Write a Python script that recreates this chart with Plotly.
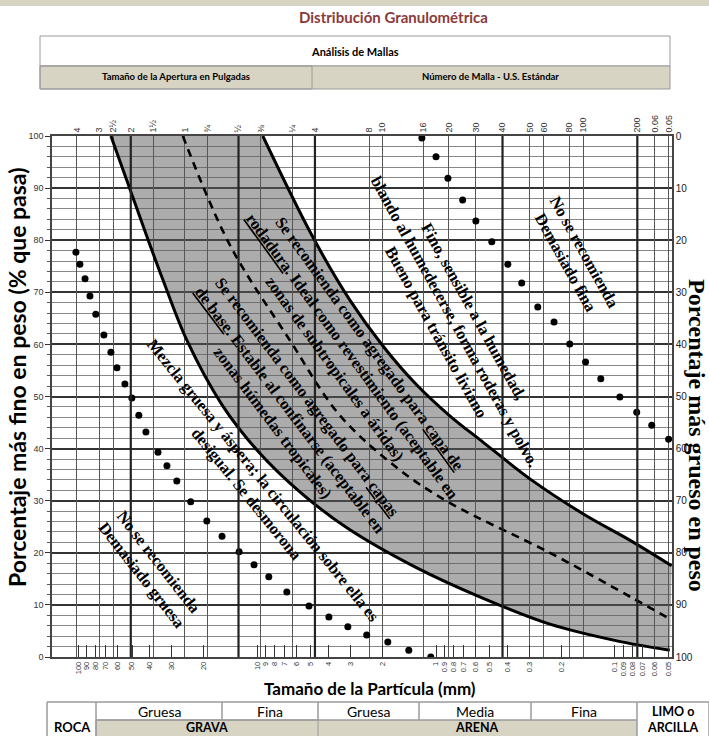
import math
import plotly.graph_objects as go

# ---------------- data ----------------
# top axis: sieve openings (mm) and their labels
sieve_mm = [101.6, 76.2, 63.5, 50.8, 38.1, 25.4, 19.05, 12.7, 9.525, 6.35, 4.75,
            2.36, 2.0, 1.18, 0.85, 0.6, 0.425, 0.3, 0.25, 0.18, 0.15, 0.075, 0.06, 0.05]
sieve_labels = ["4", "3", "2½", "2", "1½", "1", "¾", "½", "⅜", "¼", "4",
                "8", "10", "16", "20", "30", "40", "50", "60", "80", "100", "200", "0.06", "0.05"]
thick_sieves_mm = [50.8, 12.7, 4.75, 0.425, 0.075]

# bottom axis: particle size (mm)
size_ticks_mm = [100, 90, 80, 70, 60, 50, 40, 30, 20, 10, 9, 8, 7, 6, 5, 4, 3, 2, 1,
                 0.9, 0.8, 0.7, 0.6, 0.5, 0.4, 0.3, 0.2, 0.1, 0.09, 0.08, 0.07, 0.06, 0.05]
size_tick_labels = ["100", "90", "80", "70", "60", "50", "40", "30", "20", "10", "9", "8", "7",
                    "6", "5", "4", "3", "2", "1", "0.9", "0.8", "0.7", "0.6", "0.5", "0.4",
                    "0.3", "0.2", "0.1", "0.09", "0.08", "0.07", "0.06", "0.05"]

pct_ticks = [0, 10, 20, 30, 40, 50, 60, 70, 80, 90, 100]
coarse_pct_ticks = [0, 10, 20, 30, 40, 50, 60, 70, 80, 90, 100]

# coarse limit of the recommended band (solid, left/lower)
coarse_limit_mm = [65.6, 39.7, 33.6, 24.7, 15.7, 10.0, 5.77, 3.15, 1.28, 0.549, 0.231, 0.0977, 0.0494]
coarse_limit_pct = [100, 79.1, 72.4, 60.8, 48.4, 39.7, 31.7, 24.8, 17.1, 11.3, 6.3, 3.1, 1.3]

# fine limit of the recommended band (solid, right/upper)
fine_limit_mm = [9.29, 4.88, 3.03, 1.98, 1.28, 0.838, 0.549, 0.288, 0.151, 0.0796, 0.0482]
fine_limit_pct = [100, 80.6, 68.5, 59.7, 52.2, 46.3, 41.3, 33.8, 27.5, 22.1, 17.5]

# dashed middle curve
mid_mm = [26.0, 14.2, 6.56, 3.45, 1.595, 0.838, 0.231, 0.0796, 0.0482]
mid_pct = [100, 79.1, 60.8, 46.4, 35.9, 29.6, 20.0, 11.3, 7.1]

# dotted curve: too coarse
coarse_dots_mm = [102.9, 97.8, 91.5, 85.9, 79.7, 71.8, 65.6, 60.7, 54.8, 50.1, 45.8, 41.8,
                  35.8, 31.9, 28.1, 23.5, 19.1, 15.7, 12.6, 10.4, 8.60, 6.82, 5.13, 3.97,
                  3.11, 2.44, 1.86, 1.42, 1.07]
coarse_dots_pct = [77.7, 75.4, 72.6, 69.3, 65.8, 61.8, 58.5, 55.5, 52.4, 49.7, 46.4, 43.2,
                   39.3, 36.7, 33.8, 29.8, 26.1, 23.2, 20.2, 17.7, 15.4, 12.5, 9.8, 7.7,
                   5.8, 4.2, 2.9, 1.3, 0.0]

# dotted curve: too fine
fine_dots_mm = [1.20, 1.00, 0.858, 0.710, 0.599, 0.488, 0.397, 0.332, 0.270, 0.219, 0.179,
                0.146, 0.120, 0.0939, 0.0756, 0.0623, 0.0501]
fine_dots_pct = [99.6, 96.0, 91.9, 87.7, 83.7, 79.7, 75.4, 71.8, 67.2, 64.3, 60.1,
                 56.6, 53.4, 49.9, 47.0, 44.5, 41.8]

# ---------------- layout helpers ----------------
W, H = 709, 736
PL, PR, PT, PB = 52, 672, 136, 657


def px(x):
    return (x - PL) / (PR - PL)


def py(y):
    return (PB - y) / (PB - PT)


SERIF = "Liberation Serif"
SANS = "Lato"
BEIGE = "#d7d4c3"

fig = go.Figure()

# vertical thick lines at key sieves (top axis)
vx, vy = [], []
for d in thick_sieves_mm:
    vx += [d, d, None]
    vy += [0, 100, None]
fig.add_trace(go.Scatter(x=vx, y=vy, xaxis="x2", yaxis="y", mode="lines",
                         line=dict(color="#222", width=2.2), hoverinfo="skip", showlegend=False))

# band (fine limit first, then coarse limit filled to it)
fig.add_trace(go.Scatter(x=fine_limit_mm, y=fine_limit_pct, mode="lines",
                         line=dict(color="black", width=3, shape="spline", smoothing=1),
                         hoverinfo="skip", showlegend=False))
fig.add_trace(go.Scatter(x=coarse_limit_mm, y=coarse_limit_pct, mode="lines",
                         line=dict(color="black", width=3, shape="spline", smoothing=1),
                         fill="tonexty", fillcolor="rgba(90,90,90,0.5)",
                         hoverinfo="skip", showlegend=False))
fig.add_trace(go.Scatter(x=mid_mm, y=mid_pct, mode="lines",
                         line=dict(color="black", width=2.6, dash="8px,6px", shape="spline", smoothing=1),
                         hoverinfo="skip", showlegend=False))
fig.add_trace(go.Scatter(x=coarse_dots_mm, y=coarse_dots_pct, mode="markers",
                         marker=dict(color="black", size=7), hoverinfo="skip", showlegend=False))
fig.add_trace(go.Scatter(x=fine_dots_mm, y=fine_dots_pct, mode="markers",
                         marker=dict(color="black", size=7), hoverinfo="skip", showlegend=False))
# helper trace so that the right-hand axis is drawn
fig.add_trace(go.Scatter(x=[sieve_mm[0]], y=[coarse_pct_ticks[0]], yaxis="y2", mode="markers",
                         marker=dict(opacity=0), hoverinfo="skip", showlegend=False))

xr = [math.log10(140), math.log10(0.048)]

fig.update_layout(
    width=W, height=H,
    margin=dict(l=PL, r=W - PR, t=PT, b=H - PB),
    paper_bgcolor="white", plot_bgcolor="white",
    showlegend=False,
    xaxis=dict(type="log", range=xr, tickmode="array", tickvals=size_ticks_mm,
               ticktext=size_tick_labels, tickangle=-90, ticks="inside", ticklen=12,
               tickcolor="#333", tickwidth=1, showgrid=False, showline=True,
               linecolor="#444", linewidth=1.5, mirror=False,
               tickfont=dict(family="Liberation Sans", size=7.5, color="#333")),
    xaxis2=dict(type="log", range=xr, overlaying="x", side="top", anchor="y",
                tickmode="array", tickvals=sieve_mm, ticktext=sieve_labels, tickangle=-90,
                ticks="", showgrid=True, gridcolor="#555", gridwidth=1, showline=True,
                linecolor="#444", linewidth=1.5,
                tickfont=dict(family="Liberation Sans", size=9, color="#333")),
    yaxis=dict(range=[0, 100], tickmode="array", tickvals=pct_ticks, ticks="outside",
               ticklen=5, tickcolor="#333", showgrid=True, gridcolor="#333", gridwidth=2,
               showline=True, linecolor="#444", linewidth=1.5, zeroline=False,
               minor=dict(dtick=2, showgrid=True, gridcolor="#888", gridwidth=1,
                          ticks="outside", ticklen=3, tickcolor="#555"),
               tickfont=dict(family="Liberation Sans", size=9, color="#333")),
    yaxis2=dict(range=[100, 0], overlaying="y", side="right", anchor="x",
                tickmode="array", tickvals=coarse_pct_ticks, showgrid=False, zeroline=False,
                showline=True, linecolor="#444", linewidth=1.5, ticks="",
                tickfont=dict(family="Liberation Sans", size=10, color="#222")),
)

shapes = []
ann = []


def rect(x0, y0, x1, y1, fill="rgba(0,0,0,0)", line="#9a9a9a", lw=1):
    shapes.append(dict(type="rect", xref="paper", yref="paper", x0=px(x0), x1=px(x1),
                       y0=py(y1), y1=py(y0), fillcolor=fill, line=dict(color=line, width=lw),
                       layer="above"))


def text(x, y, s, size, color="black", family=SANS, angle=0, bold=False):
    ann.append(dict(xref="paper", yref="paper", x=px(x), y=py(y), text=(f"<b>{s}</b>" if bold else s),
                    showarrow=False, xanchor="center", yanchor="middle", textangle=angle,
                    font=dict(family=family, size=size, color=color)))


# top band and header table
rect(0, 0, 709, 6, fill=BEIGE, line=BEIGE, lw=0)
text(393, 17, "Distribución Granulométrica", 15, color="#8b3a3a", bold=True)
rect(40, 36, 670, 66, fill="white")
rect(40, 66, 670, 89, fill=BEIGE)
rect(40, 66, 312, 89)
text(355, 52, "Análisis de Mallas", 11, bold=True)
text(176, 77, "Tamaño de la Apertura en Pulgadas", 9.5, bold=True)
text(491, 77, "Número de Malla - U.S. Estándar", 9.5, bold=True)

# axis titles
text(370, 688, "Tamaño de la Partícula (mm)", 17, bold=True)
text(17, 378, "Porcentaje más fino en peso (% que pasa)", 23, angle=-90, bold=True)
text(697, 435, "Porcentaje más grueso en peso", 24, family=SERIF, angle=90, bold=True)

# bottom classification table
rect(96, 720, 637, 740, fill=BEIGE)
rect(47, 702, 709, 740)
rect(47, 702, 96, 740)
rect(637, 702, 709, 740)
for xa, xb in [(96, 222), (222, 318), (318, 419), (419, 531), (531, 637)]:
    rect(xa, 702, xb, 720)
rect(96, 720, 318, 740)
text(159, 711, "Gruesa", 14)
text(270, 711, "Fina", 14)
text(368, 711, "Gruesa", 14)
text(475, 711, "Media", 14)
text(584, 711, "Fina", 14)
text(673, 711, "LIMO o", 12.5, bold=True)
text(72, 727, "ROCA", 13, bold=True)
text(207, 727, "GRAVA", 12.5, bold=True)
text(477, 727, "ARENA", 12.5, bold=True)
text(673, 727, "ARCILLA", 12.5, bold=True)

# chart annotations
text(150, 568, "No se recomienda<br>Demasiado gruesa", 16.5, family=SERIF, angle=52, bold=True)
text(255, 487, "Mezcla gruesa y áspera; la circulación sobre ella es<br>desigual. Se desmorona",
     16.5, family=SERIF, angle=51, bold=True)
text(290, 410, "Se recomienda como agregado para <u>capas</u><br><u>de base</u>. Estable al confinarse (aceptable en<br>zonas húmedas tropicales)",
     16.5, family=SERIF, angle=53, bold=True)
text(352, 356, "Se recomienda como agregado para <u>capa de</u><br><u>rodadura</u>. Ideal como revestimiento (aceptable en<br>zonas de subtropicales a áridas)",
     16.5, family=SERIF, angle=54, bold=True)
text(455, 322, "Fino, sensible a la humedad,<br>blando al humedecerse, forma roderas y polvo.<br>Bueno para tránsito liviano",
     16.5, family=SERIF, angle=61, bold=True)
text(575, 257, "No se recomienda<br>Demasiado fina", 16.5, family=SERIF, angle=61, bold=True)

fig.update_layout(shapes=shapes, annotations=ann)
fig.write_html("out.html", config={"displayModeBar": False},
               post_script="document.body.style.margin='0px';")
